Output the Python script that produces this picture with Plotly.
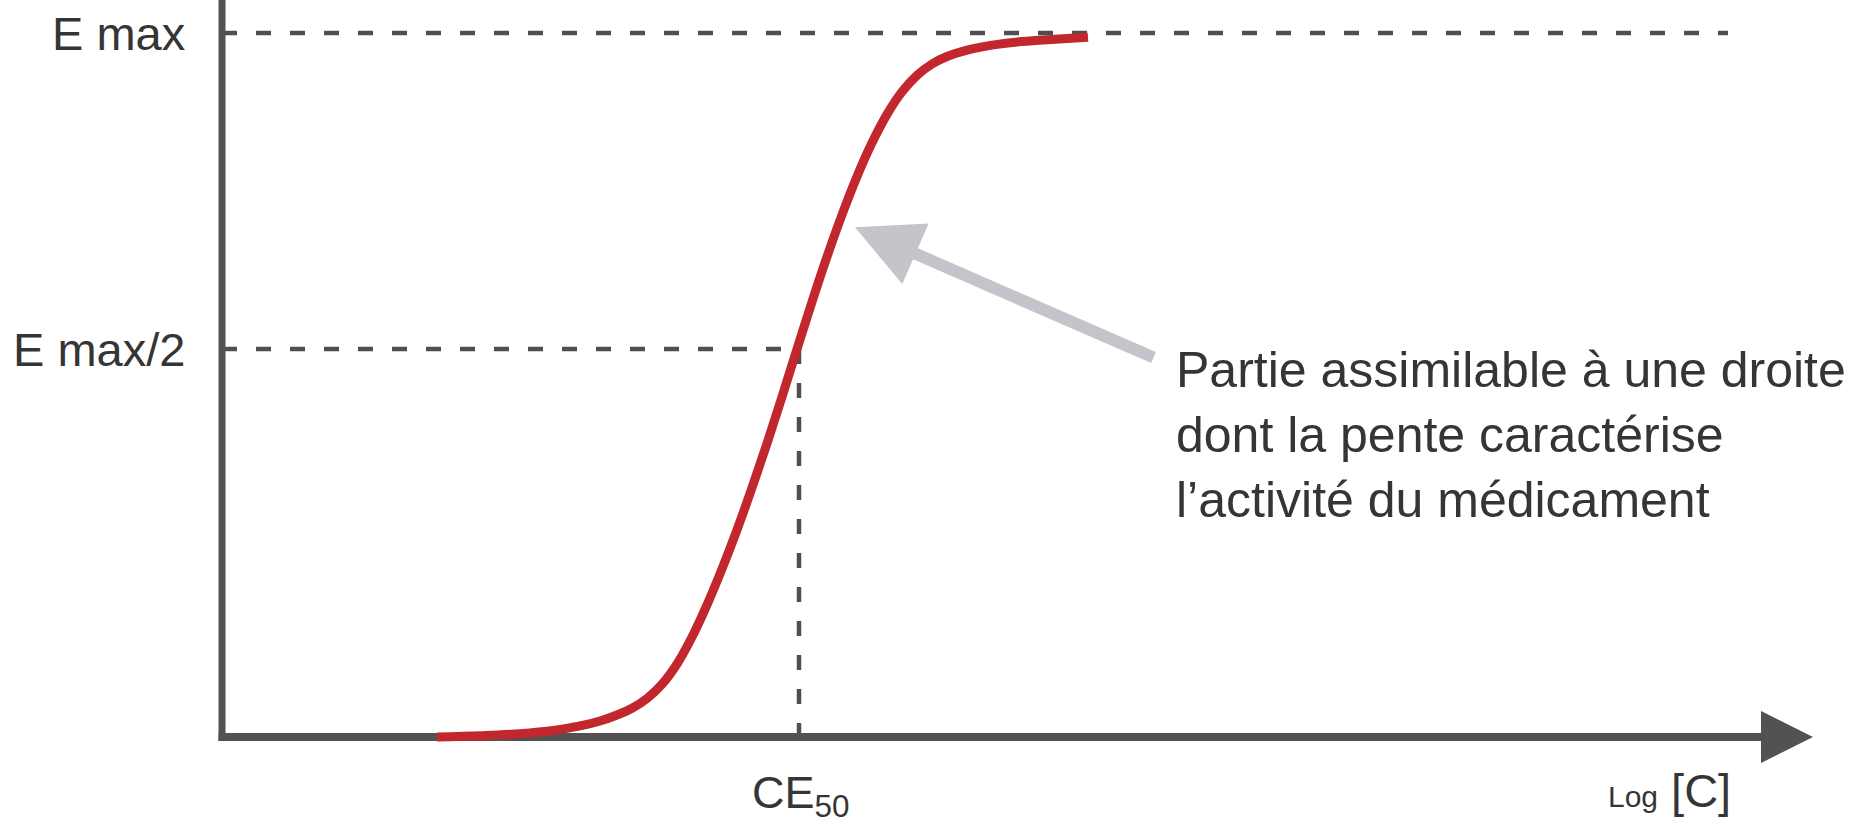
import plotly.graph_objects as go

# Dose-response curve: effect versus log concentration (arbitrary units)
log_c = [2.15, 2.58, 2.98, 3.33, 3.58, 3.78, 3.95, 4.10, 4.25, 4.40, 4.55, 4.70,
         4.85, 5.00, 5.15, 5.30, 5.45, 5.60, 5.75, 5.90, 6.05, 6.20, 6.35, 6.50,
         6.65, 6.80, 6.95, 7.10, 7.25, 7.45, 7.70, 8.00, 8.33, 8.66]
effect = [0.0, 0.18, 0.47, 0.97, 1.57, 2.28, 3.13, 4.08, 5.47, 7.49, 10.37, 14.20,
          18.78, 23.89, 29.43, 35.40, 41.69, 48.30, 55.11, 61.82, 68.21, 74.18, 79.62, 84.40,
          88.45, 91.65, 93.99, 95.60, 96.66, 97.57, 98.28, 98.79, 99.12, 99.40]

# Reference levels and their labels
level_values = [100.0, 55.1]
level_labels = ["E max", "E max/2"]
ce50 = 5.77
emax_line_end = 15.06
x_axis_end = 15.91

# Annotation arrow pointing at the quasi-linear part
pointer_tail = (9.33, 53.8)
pointer_tip = (6.33, 72.4)

TEXT = "#353535"
AXIS = "#525252"
DASH = "#4f4f4f"
RED = "#c1272d"
FONT = "Liberation Sans, Arial, sans-serif"
DASH_STYLE = dict(color=DASH, width=4.5, dash="15px,19px")

fig = go.Figure()

# Dashed guide lines
fig.add_trace(go.Scatter(x=[0, emax_line_end], y=[level_values[0]] * 2, mode="lines",
                         line=DASH_STYLE, hoverinfo="skip"))
fig.add_trace(go.Scatter(x=[0, ce50], y=[level_values[1]] * 2, mode="lines",
                         line=DASH_STYLE, hoverinfo="skip"))
fig.add_trace(go.Scatter(x=[ce50, ce50], y=[level_values[1], 0], mode="lines",
                         line=DASH_STYLE, hoverinfo="skip"))

# Axes drawn as lines
fig.add_trace(go.Scatter(x=[0, 0], y=[-0.57, 110], mode="lines",
                         line=dict(color=AXIS, width=7), hoverinfo="skip"))
fig.add_trace(go.Scatter(x=[-0.035, 14.8], y=[0, 0], mode="lines",
                         line=dict(color=AXIS, width=8), hoverinfo="skip"))

# Sigmoid curve
fig.add_trace(go.Scatter(x=log_c, y=effect, mode="lines",
                         line=dict(color=RED, width=9, shape="spline", smoothing=1.0),
                         hoverinfo="skip"))

annotations = []
# Arrow tip of the x axis
annotations.append(dict(x=x_axis_end, y=0, ax=12.0, ay=0, axref="x", ayref="y",
                        xref="x", yref="y", text="", showarrow=True, arrowhead=2,
                        arrowsize=1.3, arrowwidth=8, arrowcolor=AXIS, standoff=0))
# Grey pointer
annotations.append(dict(x=pointer_tip[0], y=pointer_tip[1], ax=pointer_tail[0], ay=pointer_tail[1],
                        axref="x", ayref="y", xref="x", yref="y", text="", showarrow=True,
                        arrowhead=2, arrowsize=1.1, arrowwidth=12, arrowcolor="#c4c5ca",
                        standoff=0))

# Level labels
for val, lab in zip(level_values, level_labels):
    annotations.append(dict(x=-0.35, y=val, xref="x", yref="y", text=lab, showarrow=False,
                            xanchor="right", yanchor="middle",
                            font=dict(family=FONT, size=47, color=TEXT)))

# CE50 label
annotations.append(dict(x=ce50 + 0.02, y=-8.3, xref="x", yref="y", text="CE<sub>50</sub>",
                        showarrow=False, xanchor="center", yanchor="middle",
                        font=dict(family=FONT, size=45, color=TEXT)))
# Log [C] label
annotations.append(dict(x=15.11, y=-7.6, xref="x", yref="y",
                        text="<span style='font-size:30px'>Log</span> [C]",
                        showarrow=False, xanchor="right", yanchor="middle",
                        font=dict(family=FONT, size=47, color=TEXT)))
# Explanatory text
annotations.append(dict(x=9.52, y=(737 - 435) / 7.04, xref="x", yref="y",
                        text="Partie assimilable à une droite<br>dont la pente caractérise<br>l’activité du médicament",
                        showarrow=False, xanchor="left", yanchor="middle", align="left",
                        font=dict(family=FONT, size=50, color=TEXT)))

fig.update_layout(
    width=1860, height=831,
    margin=dict(l=0, r=0, t=0, b=0),
    paper_bgcolor="white", plot_bgcolor="white",
    showlegend=False,
    xaxis=dict(range=[-2.22, 16.38], visible=False, fixedrange=True),
    yaxis=dict(range=[-13.35, 104.69], visible=False, fixedrange=True),
    annotations=annotations,
)

fig.write_html("out.html")
